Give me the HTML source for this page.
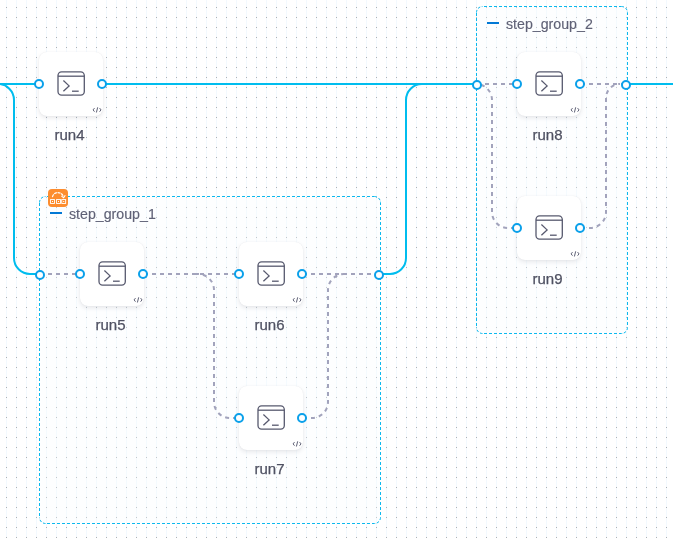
<!DOCTYPE html>
<html><head><meta charset="utf-8"><style>
html,body{margin:0;padding:0;width:673px;height:538px;overflow:hidden;background:#fff;}
body{position:relative;font-family:"Liberation Sans",sans-serif;-webkit-font-smoothing:antialiased;}
svg{display:block;}
.abs{position:absolute;left:0;top:0;}
.card{position:absolute;width:64px;height:64px;background:#fff;border-radius:8px;box-shadow:0 0 1px rgba(40,41,61,0.10),0 2px 4px rgba(96,97,112,0.14);}
.card svg{position:absolute;left:0;top:0;}
.lbl{position:absolute;will-change:transform;width:101px;text-align:center;font-size:15px;line-height:18px;color:#4f5162;-webkit-text-stroke:0.25px #4f5162;}
.glbl{position:absolute;will-change:transform;font-size:14.2px;line-height:18px;color:#5f6176;-webkit-text-stroke:0.15px #5f6176;}
</style></head><body>
<svg class="abs" width="673" height="538" viewBox="0 0 673 538">
<defs>
<pattern id="grid" x="0" y="0" width="10" height="10" patternUnits="userSpaceOnUse">
<rect x="6" y="0" width="1" height="10" fill="#f3f9fe"/>
<rect x="6" y="7" width="1" height="1" fill="#adb1b6"/>
</pattern>
</defs>
<rect width="673" height="538" fill="url(#grid)"/>
<!-- groups -->
<rect x="39.5" y="196.5" width="341.0" height="327.0" rx="6" fill="rgba(250,252,255,0.3)"/><g fill="none" stroke="#0cb9ee" stroke-width="1" stroke-dasharray="3 2"><path d="M45.5 196.5H374.5" stroke-dashoffset="3.5"/><path d="M45.5 523.5H374.5" stroke-dashoffset="3.5"/><path d="M39.5 202.5V517.5" stroke-dashoffset="4.5"/><path d="M380.5 202.5V517.5" stroke-dashoffset="0.5"/></g><g fill="none" stroke="#0cb9ee" stroke-width="1" stroke-dasharray="2.6 1.6"><path d="M39.5 202.5A6 6 0 0 1 45.5 196.5"/><path d="M374.5 196.5A6 6 0 0 1 380.5 202.5"/><path d="M380.5 517.5A6 6 0 0 1 374.5 523.5"/><path d="M45.5 523.5A6 6 0 0 1 39.5 517.5"/></g>
<rect x="476.5" y="6.5" width="151.0" height="327.0" rx="6" fill="rgba(250,252,255,0.3)"/><g fill="none" stroke="#0cb9ee" stroke-width="1" stroke-dasharray="3 2"><path d="M482.5 6.5H621.5" stroke-dashoffset="3.5"/><path d="M482.5 333.5H621.5" stroke-dashoffset="3.5"/><path d="M476.5 12.5V327.5" stroke-dashoffset="4.5"/><path d="M627.5 12.5V327.5" stroke-dashoffset="0.5"/></g><g fill="none" stroke="#0cb9ee" stroke-width="1" stroke-dasharray="2.6 1.6"><path d="M476.5 12.5A6 6 0 0 1 482.5 6.5"/><path d="M621.5 6.5A6 6 0 0 1 627.5 12.5"/><path d="M627.5 327.5A6 6 0 0 1 621.5 333.5"/><path d="M482.5 333.5A6 6 0 0 1 476.5 327.5"/></g>
<!-- gray dashed -->
<g fill="none" stroke="#a2a3bc" stroke-width="2" stroke-dasharray="4 4">
<path d="M40 274H80"/>
<path d="M144 274H239"/>
<path d="M195 274H198A16 16 0 0 1 214 290V402A16 16 0 0 0 230 418H239"/>
<path d="M303 274H379"/>
<path d="M303 418H312A16 16 0 0 0 328 402V290A16 16 0 0 1 344 274"/>
<path d="M477 84H517"/>
<path d="M473 84H476A16 16 0 0 1 492 100V212A16 16 0 0 0 508 228H517"/>
<path d="M581 84H626"/>
<path d="M581 228H590A16 16 0 0 0 606 212V98A14 14 0 0 1 620 84"/>
</g>
<!-- blue lines -->
<g fill="none" stroke="#00bdee" stroke-width="2">
<path d="M0 84H39"/>
<path d="M103 84H477"/>
<path d="M626 84H673"/>
<path d="M-2 84A16 16 0 0 1 14 100V258A16 16 0 0 0 30 274H40"/>
<path d="M379 274H390A16 16 0 0 0 406 258V100A16 16 0 0 1 422 84"/>
</g>
<!-- group headers -->
<rect x="50" y="212" width="12" height="2" fill="#0278d5"/>
<rect x="487" y="22" width="12" height="2" fill="#0278d5"/>
<g transform="translate(48,189)">
<rect width="20" height="18" rx="4" fill="#fd8d2f"/>
<path d="M4.4 8.2C5.2 2.6 13.2 1.8 15.4 7.4" fill="none" stroke="#fff" stroke-width="1.15" stroke-dasharray="3 0.7"/>
<path d="M13.3 6.9L15.6 8.6L17.3 6.2" fill="none" stroke="#fff" stroke-width="1.1"/>
<rect x="2.55" y="10.55" width="3.9" height="3.9" fill="none" stroke="#fff" stroke-width="0.9"/>
<rect x="8.55" y="10.55" width="3.9" height="3.9" fill="none" stroke="#fff" stroke-width="0.9"/>
<rect x="13.75" y="10.55" width="3.9" height="3.9" fill="none" stroke="#fff" stroke-width="0.9"/>
<rect x="4" y="12" width="1" height="1" fill="#fff"/>
<rect x="10" y="12" width="1" height="1" fill="#fff"/>
<rect x="15.2" y="12" width="1" height="1" fill="#fff"/>
</g>
</svg>
<div class="glbl" style="left:68.5px;top:205px">step_group_1</div>
<div class="glbl" style="left:505.5px;top:15px">step_group_2</div>
<div class="card" style="left:39px;top:52px"><svg width="64" height="64" viewBox="0 0 64 64"><rect x="19" y="19.9" width="26.3" height="23.2" rx="3.6" fill="none" stroke="#57596e" stroke-width="1.3"/><path d="M19 24.2H45.3" stroke="#57596e" stroke-width="1.3"/><path d="M24.4 28.5L30.1 33.9L24.4 39.3" fill="none" stroke="#57596e" stroke-width="1.3"/><path d="M33 39.2H39.7" stroke="#57596e" stroke-width="1.3"/><path d="M55.5 56.1L54.1 57.9L55.5 59.7M60.6 56.1L62 57.9L60.6 59.7M58.7 55.3L57.4 60.5" fill="none" stroke="#5f6176" stroke-width="1"/></svg></div>
<div class="lbl" style="left:19px;top:126px">run4</div><div class="card" style="left:80px;top:242px"><svg width="64" height="64" viewBox="0 0 64 64"><rect x="19" y="19.9" width="26.3" height="23.2" rx="3.6" fill="none" stroke="#57596e" stroke-width="1.3"/><path d="M19 24.2H45.3" stroke="#57596e" stroke-width="1.3"/><path d="M24.4 28.5L30.1 33.9L24.4 39.3" fill="none" stroke="#57596e" stroke-width="1.3"/><path d="M33 39.2H39.7" stroke="#57596e" stroke-width="1.3"/><path d="M55.5 56.1L54.1 57.9L55.5 59.7M60.6 56.1L62 57.9L60.6 59.7M58.7 55.3L57.4 60.5" fill="none" stroke="#5f6176" stroke-width="1"/></svg></div>
<div class="lbl" style="left:60px;top:316px">run5</div><div class="card" style="left:239px;top:242px"><svg width="64" height="64" viewBox="0 0 64 64"><rect x="19" y="19.9" width="26.3" height="23.2" rx="3.6" fill="none" stroke="#57596e" stroke-width="1.3"/><path d="M19 24.2H45.3" stroke="#57596e" stroke-width="1.3"/><path d="M24.4 28.5L30.1 33.9L24.4 39.3" fill="none" stroke="#57596e" stroke-width="1.3"/><path d="M33 39.2H39.7" stroke="#57596e" stroke-width="1.3"/><path d="M55.5 56.1L54.1 57.9L55.5 59.7M60.6 56.1L62 57.9L60.6 59.7M58.7 55.3L57.4 60.5" fill="none" stroke="#5f6176" stroke-width="1"/></svg></div>
<div class="lbl" style="left:219px;top:316px">run6</div><div class="card" style="left:239px;top:386px"><svg width="64" height="64" viewBox="0 0 64 64"><rect x="19" y="19.9" width="26.3" height="23.2" rx="3.6" fill="none" stroke="#57596e" stroke-width="1.3"/><path d="M19 24.2H45.3" stroke="#57596e" stroke-width="1.3"/><path d="M24.4 28.5L30.1 33.9L24.4 39.3" fill="none" stroke="#57596e" stroke-width="1.3"/><path d="M33 39.2H39.7" stroke="#57596e" stroke-width="1.3"/><path d="M55.5 56.1L54.1 57.9L55.5 59.7M60.6 56.1L62 57.9L60.6 59.7M58.7 55.3L57.4 60.5" fill="none" stroke="#5f6176" stroke-width="1"/></svg></div>
<div class="lbl" style="left:219px;top:460px">run7</div><div class="card" style="left:517px;top:52px"><svg width="64" height="64" viewBox="0 0 64 64"><rect x="19" y="19.9" width="26.3" height="23.2" rx="3.6" fill="none" stroke="#57596e" stroke-width="1.3"/><path d="M19 24.2H45.3" stroke="#57596e" stroke-width="1.3"/><path d="M24.4 28.5L30.1 33.9L24.4 39.3" fill="none" stroke="#57596e" stroke-width="1.3"/><path d="M33 39.2H39.7" stroke="#57596e" stroke-width="1.3"/><path d="M55.5 56.1L54.1 57.9L55.5 59.7M60.6 56.1L62 57.9L60.6 59.7M58.7 55.3L57.4 60.5" fill="none" stroke="#5f6176" stroke-width="1"/></svg></div>
<div class="lbl" style="left:497px;top:126px">run8</div><div class="card" style="left:517px;top:196px"><svg width="64" height="64" viewBox="0 0 64 64"><rect x="19" y="19.9" width="26.3" height="23.2" rx="3.6" fill="none" stroke="#57596e" stroke-width="1.3"/><path d="M19 24.2H45.3" stroke="#57596e" stroke-width="1.3"/><path d="M24.4 28.5L30.1 33.9L24.4 39.3" fill="none" stroke="#57596e" stroke-width="1.3"/><path d="M33 39.2H39.7" stroke="#57596e" stroke-width="1.3"/><path d="M55.5 56.1L54.1 57.9L55.5 59.7M60.6 56.1L62 57.9L60.6 59.7M58.7 55.3L57.4 60.5" fill="none" stroke="#5f6176" stroke-width="1"/></svg></div>
<div class="lbl" style="left:497px;top:270px">run9</div>
<svg class="abs" width="673" height="538" viewBox="0 0 673 538" style="pointer-events:none">
<g fill="#fff" stroke="#0aa0ea" stroke-width="2">
<circle cx="39" cy="84" r="4"/><circle cx="102" cy="84" r="4"/><circle cx="40" cy="275" r="4"/><circle cx="379" cy="275" r="4"/><circle cx="80" cy="274" r="4"/><circle cx="143" cy="274" r="4"/><circle cx="239" cy="274" r="4"/><circle cx="302" cy="274" r="4"/><circle cx="239" cy="418" r="4"/><circle cx="302" cy="418" r="4"/><circle cx="477" cy="85" r="4"/><circle cx="626" cy="85" r="4"/><circle cx="517" cy="84" r="4"/><circle cx="580" cy="84" r="4"/><circle cx="517" cy="228" r="4"/><circle cx="580" cy="228" r="4"/>
</g>
</svg>
</body></html>
